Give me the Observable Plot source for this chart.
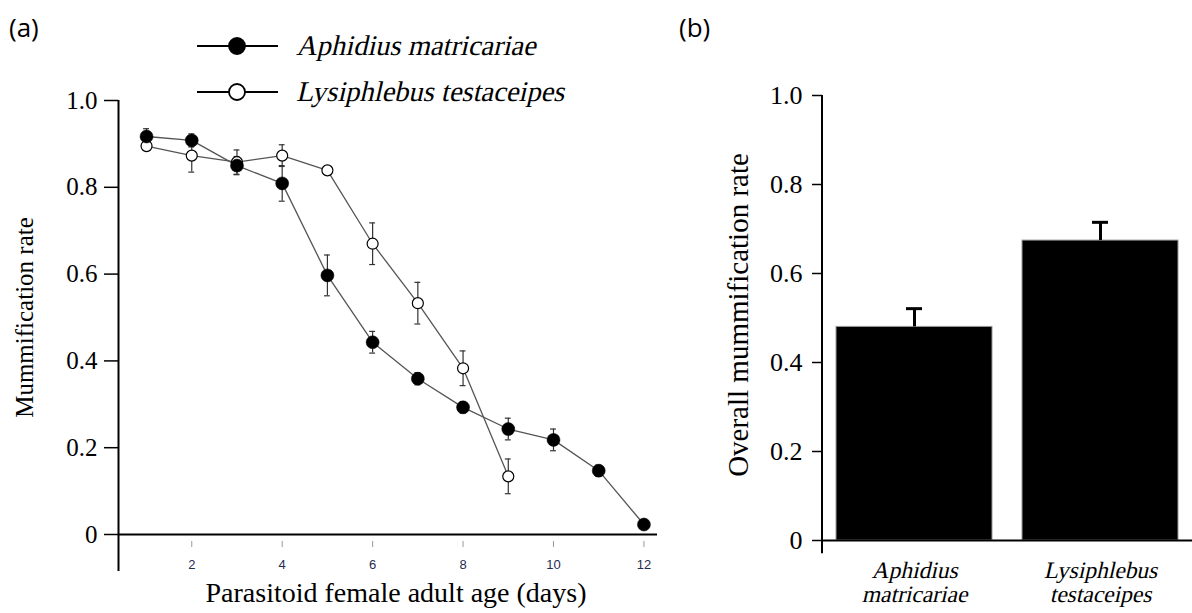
<!DOCTYPE html>
<html><head><meta charset="utf-8">
<script src="https://cdn.jsdelivr.net/npm/d3@7"></script>
<script src="https://cdn.jsdelivr.net/npm/@observablehq/plot@0.6"></script>
<style>
html,body{margin:0;padding:0;background:#fff;overflow:hidden;}
#wrap{position:relative;width:1192px;height:613px;overflow:hidden;}
.panel{position:absolute;top:0;}
#overlay{position:absolute;left:0;top:0;pointer-events:none;}
#overlay .tag{font-family:"Open Sans",sans-serif;font-size:26px;}
#overlay .leg{font-family:"Liberation Serif","Times New Roman",serif;font-size:28.5px;}
</style></head><body><div id="wrap"></div>
<script>
// ---- data ----
const days = [1,2,3,4,5,6,7,8,9,10,11,12];
const aphidiusRate = [0.917,0.908,0.850,0.809,0.597,0.443,0.359,0.293,0.243,0.218,0.147,0.023];
const aphidiusErr  = [0.018,0.015,0.021,0.041,0.047,0.025,0.014,0.013,0.025,0.025,0.013,0.010];
const lysiDays = [1,2,3,4,5,6,7,8,9];
const lysiRate = [0.895,0.873,0.858,0.873,0.839,0.670,0.533,0.383,0.134];
const lysiErr  = [0.010,0.038,0.028,0.025,0.008,0.048,0.048,0.040,0.040];
const xTicks = [2,4,6,8,10,12];
const yTicks = [0,0.2,0.4,0.6,0.8,1.0];
const species = ["Aphidius matricariae","Lysiphlebus testaceipes"];
const overallRate = [0.48,0.674];
const overallErr  = [0.041,0.041];

const serif = "Liberation Serif, Times New Roman, serif";
const fmt = d => d === 0 ? "0" : d.toFixed(1);

const aph = days.map((d,i)=>({day:d, rate:aphidiusRate[i], err:aphidiusErr[i]}));
const lys = lysiDays.map((d,i)=>({day:d, rate:lysiRate[i], err:lysiErr[i]}));
const bars = species.map((s,i)=>({species:s, genus:s.split(" ")[0], epithet:s.split(" ")[1], rate:overallRate[i], err:overallErr[i]}));

// slanted serif (italic face of the serif family is not available)
function slant(selection, angle = -13){
  selection.each(function(){
    const t = d3.select(this);
    const x = +t.attr("x") || 0, y = +t.attr("y") || 0;
    const tr = t.attr("transform") || "";
    t.attr("x", null).attr("y", null)
     .attr("transform", `${tr} translate(${x},${y}) skewX(${angle})`)
     .style("font-style", "normal");
  });
}

const wrap = document.getElementById("wrap");

// ---- panel (a) ----
const xmin = 0.38, xmax = 12.3, ybot = -0.085;
const left = Plot.plot({
  width:680, height:613, marginLeft:118, marginRight:23, marginTop:100, marginBottom:79,
  style:{fontFamily:serif, background:"transparent", overflow:"visible", color:"#000"},
  x:{domain:[xmin,xmax]},
  y:{domain:[0,1]},
  marks:[
    Plot.ruleX([xmin],{y1:ybot, y2:1, stroke:"#000", strokeWidth:2}),
    Plot.ruleY([0],{x1:xmin, x2:xmax, stroke:"#000", strokeWidth:2}),
    Plot.axisY({ticks:yTicks, tickFormat:fmt, tickSize:14, tickPadding:7, fontSize:25, fontFamily:serif, stroke:"#000", strokeWidth:1.5, label:null}),
    Plot.axisX({ticks:xTicks, tickSize:6, dy:7, tickPadding:12, fontSize:13, fontFamily:"Liberation Sans, Arial, sans-serif", stroke:"#999", fill:"#1f2d4f", label:null}),
    Plot.text(["Parasitoid female adult age (days)"],{frameAnchor:"bottom", textAnchor:"middle", dx:8, dy:59, lineAnchor:"middle", fontSize:28, fontFamily:serif, fill:"#000"}),
    Plot.text(["Mummification rate"],{frameAnchor:"left", textAnchor:"middle", rotate:-90, dx:-94, lineAnchor:"middle", fontSize:25, fontFamily:serif, fill:"#000"}),
    Plot.line(aph,{x:"day", y:"rate", stroke:"#555", strokeWidth:1.3}),
    Plot.line(lys,{x:"day", y:"rate", stroke:"#555", strokeWidth:1.3}),
    Plot.ruleX(lys,{x:"day", y1:d=>d.rate-d.err, y2:d=>d.rate+d.err, stroke:"#333", strokeWidth:1.2}),
    Plot.ruleY(lys,{y:d=>d.rate-d.err, x1:d=>d.day-0.065, x2:d=>d.day+0.065, stroke:"#333", strokeWidth:1.2}),
    Plot.ruleY(lys,{y:d=>d.rate+d.err, x1:d=>d.day-0.065, x2:d=>d.day+0.065, stroke:"#333", strokeWidth:1.2}),
    Plot.ruleX(aph,{x:"day", y1:d=>d.rate-d.err, y2:d=>d.rate+d.err, stroke:"#333", strokeWidth:1.2}),
    Plot.ruleY(aph,{y:d=>d.rate-d.err, x1:d=>d.day-0.065, x2:d=>d.day+0.065, stroke:"#333", strokeWidth:1.2}),
    Plot.ruleY(aph,{y:d=>d.rate+d.err, x1:d=>d.day-0.065, x2:d=>d.day+0.065, stroke:"#333", strokeWidth:1.2}),
    Plot.dot(lys,{x:"day", y:"rate", r:5.5, fill:"#fff", stroke:"#000", strokeWidth:1.2}),
    Plot.dot(aph,{x:"day", y:"rate", r:6.5, fill:"#000", stroke:"#000", strokeWidth:0.5})
  ]
});
left.classList.add("panel");
left.style.left = "0px";
wrap.appendChild(left);

// ---- panel (b) ----
const yAxisLine = (index, scales, values, dims) => {
  const x = dims.marginLeft;
  return d3.create("svg:line")
    .attr("x1",x).attr("x2",x)
    .attr("y1",scales.y(1)).attr("y2",scales.y(-0.03))
    .attr("stroke","#000").attr("stroke-width",2).node();
};
const right = Plot.plot({
  width:512, height:613, marginLeft:142, marginRight:0, marginTop:95, marginBottom:73,
  style:{fontFamily:serif, background:"transparent", overflow:"visible", color:"#000"},
  x:{domain:species, paddingInner:0.16, paddingOuter:0.0695, align:0.5, axis:null},
  y:{domain:[0,1]},
  marks:[
    Plot.barY(bars,{x:"species", y:"rate", fill:"#000", stroke:"#999", strokeWidth:1}),
    Plot.ruleX(bars,{x:"species", y1:"rate", y2:d=>d.rate+d.err, stroke:"#000", strokeWidth:3}),
    Plot.tickY(bars,{x:"species", y:d=>d.rate+d.err, insetLeft:70, insetRight:70, stroke:"#000", strokeWidth:3}),
    Plot.ruleY([0],{stroke:"#000", strokeWidth:2}),
    yAxisLine,
    Plot.axisY({ticks:yTicks, tickFormat:fmt, tickSize:10, tickPadding:10, fontSize:26, fontFamily:serif, stroke:"#000", strokeWidth:1.5, label:null}),
    Plot.text(bars,{x:"species", text:"genus", frameAnchor:"bottom", dy:37, lineAnchor:"middle", fontSize:23.5, fontFamily:serif, fill:"#000"}),
    Plot.text(bars,{x:"species", text:"epithet", frameAnchor:"bottom", dy:61, lineAnchor:"middle", fontSize:23.5, fontFamily:serif, fill:"#000"}),
    Plot.text(["Overall mummification rate"],{frameAnchor:"left", textAnchor:"middle", rotate:-90, dx:-84, dy:-3, lineAnchor:"middle", fontSize:29, fontFamily:serif, fill:"#000"})
  ]
});
const catWords = new Set(bars.flatMap(b => [b.genus, b.epithet]));
slant(d3.select(right).selectAll("text").filter(function(){ return catWords.has(this.textContent); }));
right.classList.add("panel");
right.style.left = "680px";
wrap.appendChild(right);

// ---- panel tags and legend ----
const ov = d3.select(wrap).append("svg").attr("id","overlay").attr("width",1192).attr("height",613);
ov.append("text").attr("class","tag").attr("x",9).attr("y",37).text("(a)");
ov.append("text").attr("class","tag").attr("x",679).attr("y",37).text("(b)");
const legendRows = [46,92];
species.forEach((s,i)=>{
  const y = legendRows[i];
  const g = ov.append("g");
  g.append("line").attr("x1",197).attr("x2",278).attr("y1",y).attr("y2",y).attr("stroke","#000").attr("stroke-width",2);
  g.append("circle").attr("cx",237).attr("cy",y).attr("r",8)
    .attr("fill", i===0 ? "#000" : "#fff").attr("stroke","#000").attr("stroke-width",1.8);
  g.append("text").attr("class","leg legtext").attr("x",296).attr("y",y+9).text(s);
});
slant(ov.selectAll("text.legtext"));
</script></body></html>
